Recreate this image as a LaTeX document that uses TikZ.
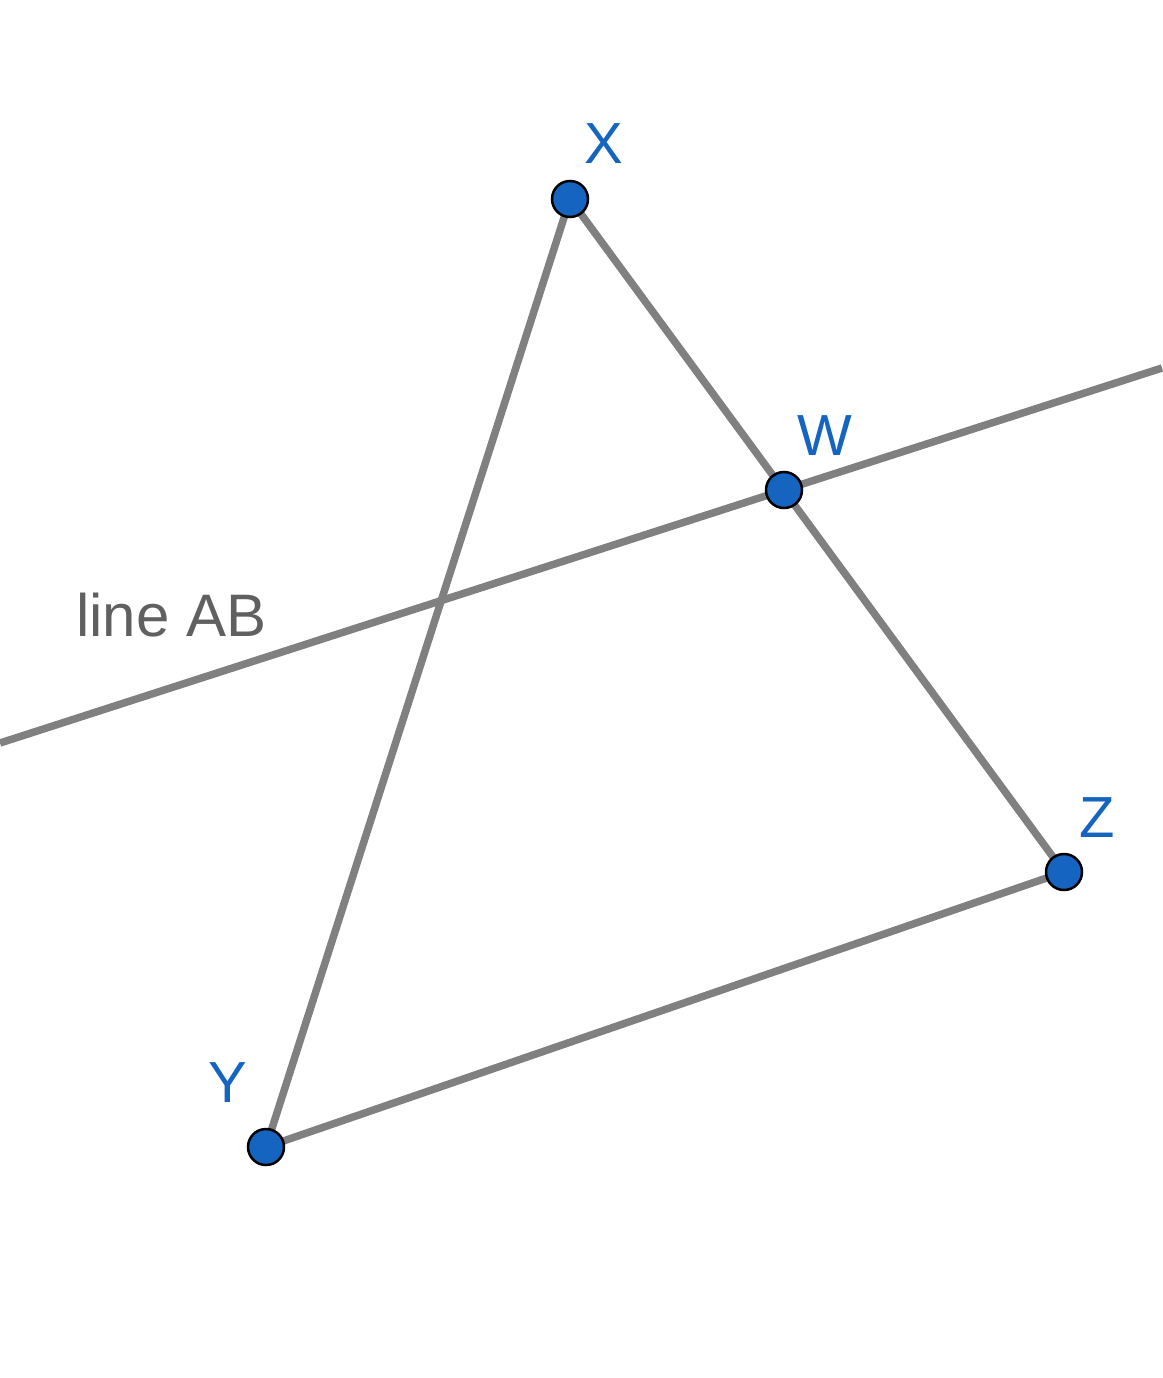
\documentclass[tikz,border=0pt]{standalone}
\usepackage{fontspec}
\setmainfont{Liberation Sans}
\definecolor{ptblue}{HTML}{1565C0}
\definecolor{segray}{HTML}{808080}
\definecolor{lblgray}{HTML}{606060}
\begin{document}
\begin{tikzpicture}[x=1pt,y=-1pt,
  seg/.style={draw=segray,line width=7.5pt},
  pt/.style={circle,fill=ptblue,draw=black,line width=2.5pt,minimum size=36pt,inner sep=0pt},
  ptlabel/.style={text=ptblue,font=\fontsize{58}{60}\selectfont,inner sep=0pt},
  linelabel/.style={text=lblgray,font=\fontsize{60}{62}\selectfont,inner sep=0pt}]
\useasboundingbox (0,0) rectangle (1162,1378);
\coordinate (A) at (0,743);
\coordinate (B) at (1162,368);
\coordinate (X) at (570,199);
\coordinate (W) at (784,490);
\coordinate (Z) at (1064,872);
\coordinate (Y) at (266,1147);
\draw[seg] (A) -- (B);
\draw[seg] (X) -- (Y);
\draw[seg] (X) -- (Z);
\draw[seg] (Y) -- (Z);
\node[pt] (pX) at (X) {};
\node[pt] (pW) at (W) {};
\node[pt] (pZ) at (Z) {};
\node[pt] (pY) at (Y) {};
\node[ptlabel] (lX) at (604,144) {X};
\node[ptlabel] (lW) at (825,436) {W};
\node[ptlabel] (lZ) at (1097,818) {Z};
\node[ptlabel] (lY) at (228,1083) {Y};
\node[linelabel,anchor=base west] (lAB) at (76,636) {line AB};
\end{tikzpicture}
\end{document}
